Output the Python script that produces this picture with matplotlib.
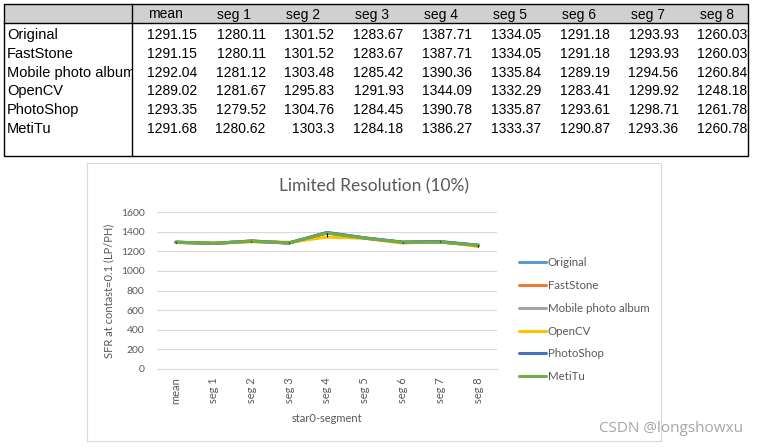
import numpy as np
import matplotlib
matplotlib.use("Agg")
import matplotlib.pyplot as plt
from matplotlib.patches import Rectangle
from matplotlib.transforms import Bbox

# data
categories = ['mean', 'seg 1', 'seg 2', 'seg 3', 'seg 4', 'seg 5', 'seg 6', 'seg 7', 'seg 8']
series_names = ['Original', 'FastStone', 'Mobile photo album', 'OpenCV', 'PhotoShop', 'MetiTu']
original = [1291.15, 1280.11, 1301.52, 1283.67, 1387.71, 1334.05, 1291.18, 1293.93, 1260.03]
faststone = [1291.15, 1280.11, 1301.52, 1283.67, 1387.71, 1334.05, 1291.18, 1293.93, 1260.03]
mobile = [1292.04, 1281.12, 1303.48, 1285.42, 1390.36, 1335.84, 1289.19, 1294.56, 1260.84]
opencv = [1289.02, 1281.67, 1295.83, 1291.93, 1344.09, 1332.29, 1283.41, 1299.92, 1248.18]
photoshop = [1293.35, 1279.52, 1304.76, 1284.45, 1390.78, 1335.87, 1293.61, 1298.71, 1261.78]
meitu = [1291.68, 1280.62, 1303.3, 1284.18, 1386.27, 1333.37, 1290.87, 1293.36, 1260.78]
table_text = [['1291.15', '1280.11', '1301.52', '1283.67', '1387.71', '1334.05', '1291.18', '1293.93', '1260.03'],
              ['1291.15', '1280.11', '1301.52', '1283.67', '1387.71', '1334.05', '1291.18', '1293.93', '1260.03'],
              ['1292.04', '1281.12', '1303.48', '1285.42', '1390.36', '1335.84', '1289.19', '1294.56', '1260.84'],
              ['1289.02', '1281.67', '1295.83', '1291.93', '1344.09', '1332.29', '1283.41', '1299.92', '1248.18'],
              ['1293.35', '1279.52', '1304.76', '1284.45', '1390.78', '1335.87', '1293.61', '1298.71', '1261.78'],
              ['1291.68', '1280.62', '1303.3', '1284.18', '1386.27', '1333.37', '1290.87', '1293.36', '1260.78']]
colors = ['#5B9BD5', '#ED7D31', '#A5A5A5', '#FFC000', '#4472C4', '#70AD47']

W, H = 758, 447
fig = plt.figure(figsize=(W / 100, H / 100), dpi=100)

# 표 영역 (pixel coordinates)
bg = fig.add_axes([0, 0, 1, 1])
bg.set_xlim(0, W)
bg.set_ylim(H, 0)
bg.axis('off')

tfont = ['Liberation Sans', 'DejaVu Sans']
bg.add_patch(Rectangle((4, 4), 744, 19, facecolor='#D0D0D0', edgecolor='none'))
bg.add_patch(Rectangle((4, 4), 744, 152, facecolor='none', edgecolor='black', lw=1.0, zorder=5))
bg.plot([4, 748], [23, 23], color='black', lw=1.0, zorder=5)
bg.plot([132, 132], [4, 156], color='black', lw=1.0, zorder=5)

for j, c in enumerate(categories):
    bg.text(148 + 69 * j, 14.5, c, fontsize=10, family=tfont, va='center', ha='left')
# 첫 번째 열은 셀 경계에서 잘림
first_col_box = Bbox.from_extents(4, 0, 131.5, H)
for i, name in enumerate(series_names):
    y = 35 + 18.8 * i
    t = bg.text(7, y, name, fontsize=10.5, family=tfont, va='center', ha='left', clip_on=True)
    t.set_clip_box(first_col_box)
    for j, v in enumerate(table_text[i]):
        bg.text(197 + 68.8 * j, y, v, fontsize=10, family=tfont, va='center', ha='right')

# chart border
bg.add_patch(Rectangle((87, 163), 574, 278, facecolor='none', edgecolor='#D9D9D9', lw=0.8))

# chart
cfont = ['Lato', 'DejaVu Sans']
ax = fig.add_axes([157 / W, (H - 369) / H, 340 / W, 157 / H])
x = np.arange(len(categories))
all_series = [original, faststone, mobile, opencv, photoshop, meitu]
for s, name, col in zip(all_series, series_names, colors):
    ax.plot(x, s, color=col, lw=2.2, label=name, solid_capstyle='round', zorder=3)
arr = np.array(all_series)
ax.vlines(x, arr.min(axis=0), arr.max(axis=0), color='black', lw=0.8, zorder=4)

ax.set_xlim(-0.5, len(categories) - 0.5)
ax.set_ylim(0, 1600)
ax.set_yticks(np.arange(0, 1601, 200))
ax.grid(axis='y', color='#D9D9D9', lw=0.8)
ax.set_axisbelow(True)
for sp in ['top', 'right', 'left']:
    ax.spines[sp].set_visible(False)
ax.spines['bottom'].set_color('#D9D9D9')
ax.tick_params(length=0, colors='#595959', labelsize=7.5)
ax.tick_params(axis='x', labelsize=8, pad=6)
ax.tick_params(axis='y', pad=9)
ax.set_xticks(x)
ax.set_xticklabels(categories, rotation=90, family=cfont)
for lab in ax.get_yticklabels():
    lab.set_family(cfont)

ax.set_ylabel('SFR at contast=0.1 (LP/PH)', fontsize=8, color='#595959', family=cfont, labelpad=5)
ax.set_xlabel('star0-segment', fontsize=8, color='#595959', family=cfont, labelpad=6)
fig.text(374 / W, 1 - 186 / H, 'Limited Resolution (10%)', fontsize=12.5, color='#595959',
         family=cfont, ha='center', va='center')

fig.legend(loc='upper left', bbox_to_anchor=(509 / W, 1 - 247 / H), frameon=False,
           prop={'family': cfont, 'size': 8.3}, handlelength=2.35,
           handletextpad=0.1, labelspacing=1.02, labelcolor='#595959')

fig.text(743 / W, 1 - 429 / H, 'CSDN @longshowxu', fontsize=11, color='#A6A6A6',
         family=['Open Sans', 'DejaVu Sans'], ha='right', va='center')

plt.savefig('out.png', dpi=100)
